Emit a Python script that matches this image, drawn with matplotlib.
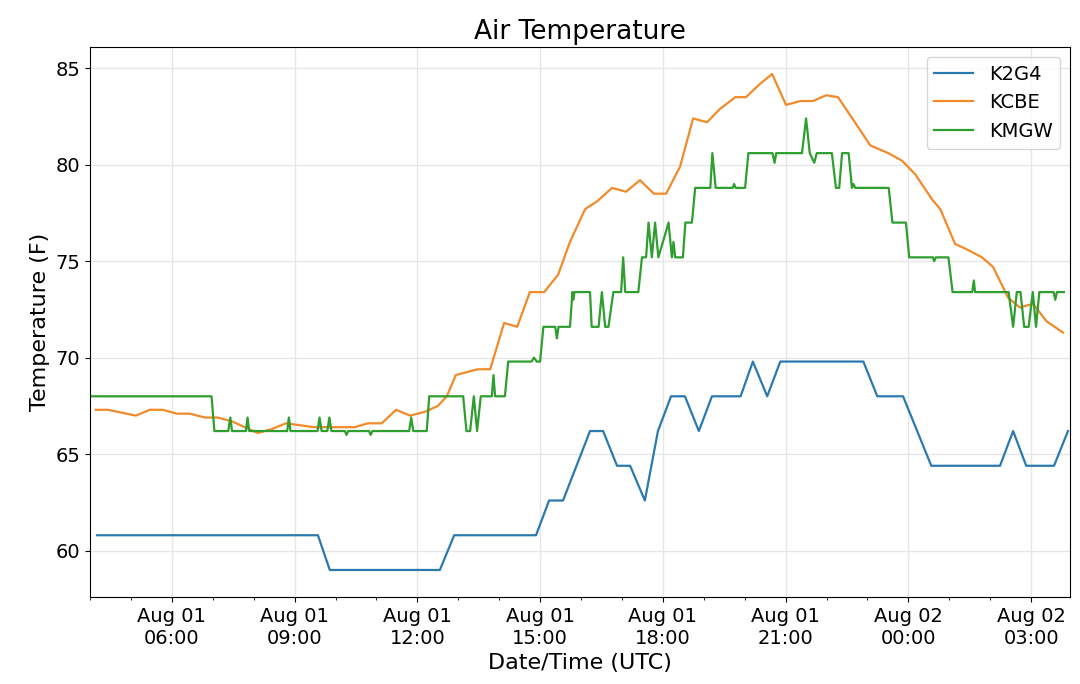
import numpy as np
import matplotlib.pyplot as plt
import matplotlib.dates as mdates
from datetime import datetime, timedelta

# hours since Aug 01 00:00 UTC, temperature (F)
k2g4_h = [4.17, 9.57, 9.86, 12.55, 12.9, 14.9, 15.22, 15.56, 16.22, 16.54, 16.88, 17.2,
          17.56, 17.88, 18.2, 18.54, 18.88, 19.2, 19.9, 20.2, 20.55, 20.87, 22.9, 23.24,
          23.87, 24.56, 26.24, 26.56, 26.88, 27.56, 27.9]
k2g4_t = [60.8, 60.8, 59.0, 59.0, 60.8, 60.8, 62.6, 62.6, 66.2, 66.2, 64.4, 64.4,
          62.6, 66.2, 68.0, 68.0, 66.2, 68.0, 68.0, 69.8, 68.0, 69.8, 69.8, 68.0,
          68.0, 64.4, 64.4, 66.2, 64.4, 64.4, 66.2]

kcbe_h = [4.14, 4.44, 5.12, 5.46, 5.78, 6.12, 6.44, 6.81, 7.12, 7.47, 7.78, 8.10, 8.44,
          8.79, 9.13, 9.47, 10.47, 10.79, 11.13, 11.48, 11.82, 12.19, 12.50, 12.72, 12.94,
          13.29, 13.48, 13.78, 14.12, 14.44, 14.75, 15.10, 15.44, 15.73, 16.10, 16.39,
          16.76, 17.10, 17.44, 17.78, 18.08, 18.42, 18.74, 19.08, 19.40, 19.77, 20.03,
          20.38, 20.67, 21.01, 21.36, 21.67, 21.99, 22.28, 22.63, 23.07, 23.51, 23.85,
          24.17, 24.58, 24.78, 25.14, 25.44, 25.80, 26.07, 26.44, 26.73, 27.05, 27.37, 27.78]
kcbe_t = [67.3, 67.3, 67.0, 67.3, 67.3, 67.1, 67.1, 66.9, 66.9, 66.7, 66.4, 66.1, 66.3,
          66.6, 66.5, 66.4, 66.4, 66.6, 66.6, 67.3, 67.0, 67.2, 67.5, 68.0, 69.1,
          69.3, 69.4, 69.4, 71.8, 71.6, 73.4, 73.4, 74.3, 76.0, 77.7, 78.1,
          78.8, 78.6, 79.2, 78.5, 78.5, 79.9, 82.4, 82.2, 82.9, 83.5, 83.5,
          84.2, 84.7, 83.1, 83.3, 83.3, 83.6, 83.5, 82.4, 81.0, 80.6, 80.2,
          79.5, 78.2, 77.7, 75.9, 75.6, 75.2, 74.7, 73.1, 72.6, 72.8, 71.9, 71.3]

kmgw_h = [4.0, 6.97, 7.04, 7.38, 7.43, 7.47, 7.81, 7.85, 7.89, 8.82, 8.86, 8.90, 9.56,
          9.61, 9.66, 9.80, 9.85, 9.90, 10.23, 10.27, 10.31, 10.82, 10.86, 10.90, 11.80,
          11.85, 11.90, 12.23, 12.29, 13.12, 13.20, 13.29, 13.38, 13.46, 13.55, 13.82,
          13.86, 13.90, 14.14, 14.22, 14.79, 14.85, 14.92, 15.0, 15.08, 15.18, 15.37,
          15.41, 15.45, 15.73, 15.79, 15.81, 15.84, 16.22, 16.26, 16.43, 16.51, 16.59,
          16.67, 16.79, 16.98, 17.03, 17.08, 17.16, 17.40, 17.49, 17.59, 17.65, 17.73,
          17.81, 17.89, 18.14, 18.22, 18.26, 18.30, 18.49, 18.55, 18.71, 18.79, 19.16,
          19.21, 19.29, 19.71, 19.74, 19.78, 20.01, 20.09, 20.68, 20.73, 20.77, 21.40,
          21.50, 21.59, 21.70, 21.76, 22.13, 22.23, 22.31, 22.38, 22.54, 22.62, 22.66,
          22.70, 23.52, 23.61, 23.94, 24.02, 24.60, 24.63, 24.67, 24.98, 25.08, 25.56,
          25.60, 25.63, 26.45, 26.56, 26.65, 26.74, 26.83, 26.94, 27.04, 27.12, 27.20,
          27.55, 27.59, 27.63, 27.8]
kmgw_t = [68.0, 68.0, 66.2, 66.2, 66.9, 66.2, 66.2, 66.9, 66.2, 66.2, 66.9, 66.2, 66.2,
          66.9, 66.2, 66.2, 66.9, 66.2, 66.2, 66.0, 66.2, 66.2, 66.0, 66.2, 66.2,
          66.9, 66.2, 66.2, 68.0, 68.0, 66.2, 66.2, 68.0, 66.2, 68.0, 68.0,
          69.1, 68.0, 68.0, 69.8, 69.8, 70.0, 69.8, 69.8, 71.6, 71.6, 71.6,
          71.0, 71.6, 71.6, 73.4, 73.0, 73.4, 73.4, 71.6, 71.6, 73.4, 71.6,
          71.6, 73.4, 73.4, 75.2, 73.4, 73.4, 73.4, 75.2, 75.2, 77.0, 75.2,
          77.0, 75.2, 77.0, 75.2, 76.0, 75.2, 75.2, 77.0, 77.0, 78.8, 78.8,
          80.6, 78.8, 78.8, 79.0, 78.8, 78.8, 80.6, 80.6, 80.1, 80.6, 80.6,
          82.4, 80.6, 80.1, 80.6, 80.6, 78.8, 78.8, 80.6, 80.6, 78.8, 79.0,
          78.8, 78.8, 77.0, 77.0, 75.2, 75.2, 75.0, 75.2, 75.2, 73.4, 73.4,
          74.0, 73.4, 73.4, 71.6, 73.4, 73.4, 71.6, 71.6, 73.4, 71.6, 73.4,
          73.4, 73.0, 73.4, 73.4]

base = datetime(2018, 8, 1)
def to_dt(hours):
    return [base + timedelta(hours=h) for h in hours]

fig = plt.figure(figsize=(10.8, 6.84), dpi=100)
ax = fig.add_axes([90 / 1080, 1 - 597 / 684, 980 / 1080, 550 / 684])
ax.plot(to_dt(k2g4_h), k2g4_t, color='#2a7ab0', label='K2G4', lw=1.6)
ax.plot(to_dt(kcbe_h), kcbe_t, color='#f28a2a', label='KCBE', lw=1.6)
ax.plot(to_dt(kmgw_h), kmgw_t, color='#2e9e2e', label='KMGW', lw=1.6)

ax.set_xlim(base + timedelta(hours=4.0), base + timedelta(hours=27.95))
ax.set_ylim(57.6, 86.1)
ax.xaxis.set_major_locator(mdates.HourLocator(byhour=[0, 3, 6, 9, 12, 15, 18, 21]))
ax.xaxis.set_minor_locator(mdates.HourLocator())
ax.xaxis.set_major_formatter(mdates.DateFormatter('%b %d\n%H:%M'))
ax.grid(True, which='major', color='#e6e6e6', lw=1)
ax.tick_params(labelsize=14)
ax.set_title('Air Temperature', fontsize=19)
ax.set_xlabel('Date/Time (UTC)', fontsize=16)
ax.set_ylabel('Temperature (F)', fontsize=16)
ax.legend(loc='upper right', fontsize=14)

fig.savefig('out.png', dpi=100)
